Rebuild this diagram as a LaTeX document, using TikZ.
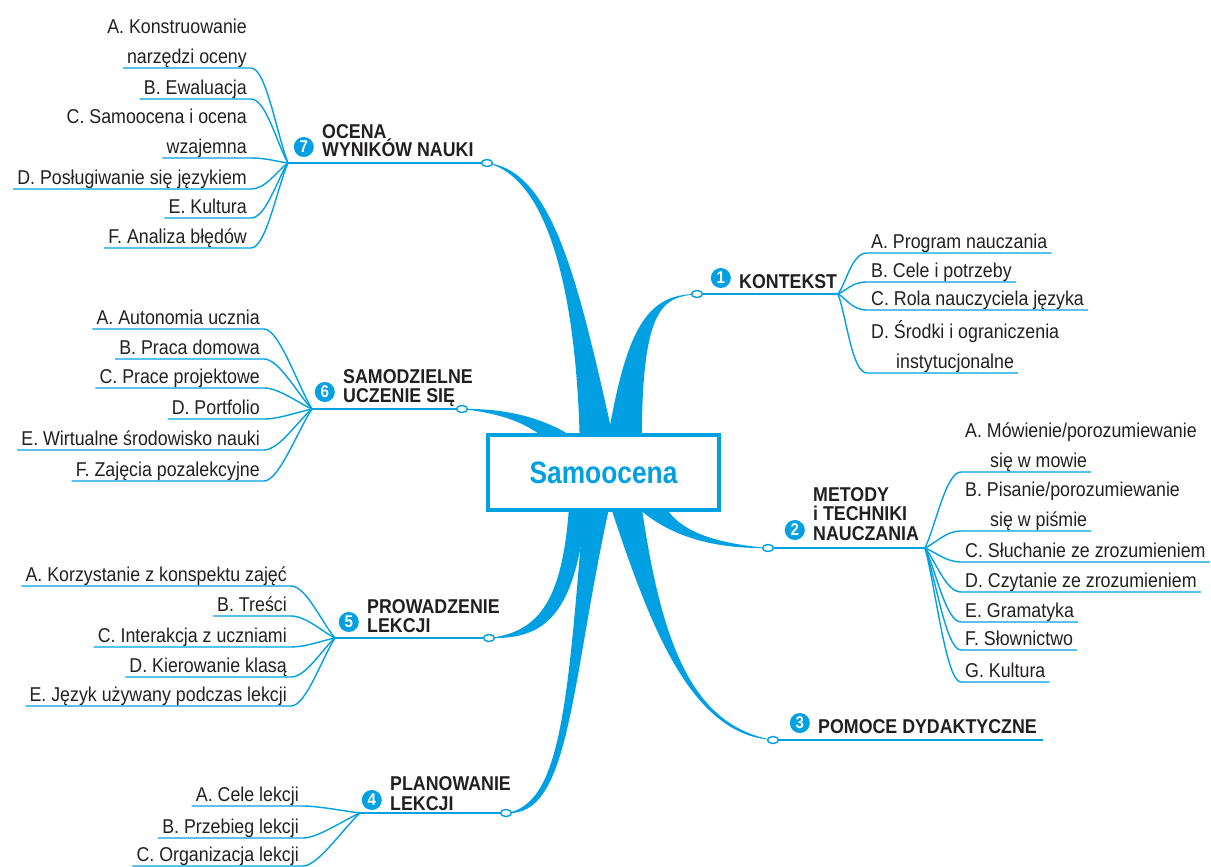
\documentclass[tikz,border=0pt]{standalone}
\usepackage{fontspec}
\setmainfont{Liberation Sans}[FakeStretch=0.89]
\newfontfamily\titlefont{Liberation Sans}[FakeStretch=0.85]
\usetikzlibrary{positioning,calc,shapes.geometric}
\definecolor{mapblue}{RGB}{0,160,227}
\definecolor{ink}{RGB}{35,31,32}
\tikzset{
  limb/.style={fill=mapblue},
  twig/.style={draw=mapblue, line width=1.4pt},
  knob/.style={ellipse, draw=mapblue, fill=white, line width=1.4pt,
    minimum width=11pt, minimum height=7pt, inner sep=0pt},
  leaf/.style={text=ink, font=\fontsize{20}{30}\selectfont,
    inner xsep=4pt, inner ysep=4pt, text depth=0pt},
  leafL/.style={leaf, anchor=south east},
  leafR/.style={leaf, anchor=south west},
  head/.style={text=ink, font=\bfseries\fontsize{20}{20}\selectfont,
    inner sep=0pt, anchor=base west},
  digit/.style={circle, fill=mapblue, text=white,
    font=\bfseries\fontsize{17}{17}\selectfont, minimum size=20pt, inner sep=0pt},
  core/.style={draw=mapblue, line width=4pt, fill=white, minimum width=231pt,
    minimum height=75pt, text=mapblue, font=\titlefont\bfseries\fontsize{31}{31}\selectfont}
}
\begin{document}
\begin{tikzpicture}[x=1pt, y=-1pt]
  \useasboundingbox (0,0) rectangle (1211,867);

  % Knob positions and hubs
  \coordinate (p1) at (697,294); \coordinate (hub1) at (838,294);
  \coordinate (p2) at (768,548); \coordinate (hub2) at (925,548);
  \coordinate (p3) at (773,740); \coordinate (end3) at (1043,740);
  \coordinate (p4) at (506,813); \coordinate (hub4) at (360,813);
  \coordinate (p5) at (489,638); \coordinate (hub5) at (335,638);
  \coordinate (p6) at (462,409); \coordinate (hub6) at (312,409);
  \coordinate (p7) at (487,163); \coordinate (hub7) at (288,163);

  % Thick limbs, tapering out from under the core
  \fill[limb] (616,450) .. controls (580,290) and (555,170) .. (p7)
    .. controls (550,178) and (578,300) .. (580,455) -- cycle;
  \fill[limb] (605,455) .. controls (625,330) and (645,294) .. (p1)
    .. controls (665,298) and (640,300) .. (642,455) -- cycle;
  \fill[limb] (595,455) .. controls (560,420) and (510,408) .. (p6)
    .. controls (505,414) and (540,425) .. (565,460) -- cycle;
  \fill[limb] (660,495) .. controls (670,525) and (700,542) .. (p2)
    .. controls (710,549) and (660,535) .. (625,495) -- cycle;
  \fill[limb] (640,495) .. controls (660,640) and (690,725) .. (p3)
    .. controls (685,735) and (645,610) .. (605,490) -- cycle;
  \fill[limb] (570,490) .. controls (565,600) and (540,632) .. (p5)
    .. controls (550,640) and (578,610) .. (588,490) -- cycle;
  \fill[limb] (585,490) .. controls (568,700) and (562,805) .. (p4)
    .. controls (572,818) and (570,680) .. (612,495) -- cycle;

  % Central box
  \node[core] (core) at (603.5,472.5) {Samoocena};

  % Stems from knob to hub
  \draw[twig] (p1) -- (hub1);
  \draw[twig] (p2) -- (hub2);
  \draw[twig] (p3) -- (end3);
  \draw[twig] (p4) -- (hub4);
  \draw[twig] (p5) -- (hub5);
  \draw[twig] (p6) -- (hub6);
  \draw[twig] (p7) -- (hub7);

  % 1 KONTEKST
  \foreach \n/\y/\t in {a/253/A. Program nauczania, b/282/B. Cele i potrzeby,
      c/310/C. Rola nauczyciela języka, d/373/\hspace*{25pt}instytucjonalne}{
    \node[leafR] (l1\n) at (867,\y) {\t};
    \draw[twig] (l1\n.south east) -- (l1\n.south west)
      .. controls +(-15,0) and ($(hub1)!0.3!(l1\n.south west)$) .. (hub1);
  }
  \node[leafR] at ([yshift=30pt]l1d.south west) {D. Środki i ograniczenia};

  % 2 METODY I TECHNIKI NAUCZANIA
  \foreach \n/\y/\t in {a/472/\hspace*{25pt}się w mowie, b/531/\hspace*{25pt}się w piśmie,
      c/562/C. Słuchanie ze zrozumieniem, d/592/D. Czytanie ze zrozumieniem,
      e/622/E. Gramatyka, f/650/F. Słownictwo, g/682/G. Kultura}{
    \node[leafR] (l2\n) at (961,\y) {\t};
    \draw[twig] (l2\n.south east) -- (l2\n.south west)
      .. controls +(-15,0) and ($(hub2)!0.3!(l2\n.south west)$) .. (hub2);
  }
  \node[leafR] at ([yshift=30pt]l2a.south west) {A. Mówienie/porozumiewanie};
  \node[leafR] at ([yshift=30pt]l2b.south west) {B. Pisanie/porozumiewanie};

  % 4 PLANOWANIE LEKCJI
  \foreach \n/\y/\t in {a/806/A. Cele lekcji, b/838/B. Przebieg lekcji,
      c/866/C. Organizacja lekcji}{
    \node[leafL] (l4\n) at (303,\y) {\t};
    \draw[twig] (l4\n.south west) -- (l4\n.south east)
      .. controls +(15,0) and ($(hub4)!0.3!(l4\n.south east)$) .. (hub4);
  }

  % 5 PROWADZENIE LEKCJI
  \foreach \n/\y/\t in {a/586/A. Korzystanie z konspektu zajęć, b/616/B. Treści,
      c/647/C. Interakcja z uczniami, d/677/D. Kierowanie klasą,
      e/706/E. Język używany podczas lekcji}{
    \node[leafL] (l5\n) at (291,\y) {\t};
    \draw[twig] (l5\n.south west) -- (l5\n.south east)
      .. controls +(15,0) and ($(hub5)!0.3!(l5\n.south east)$) .. (hub5);
  }

  % 6 SAMODZIELNE UCZENIE SIĘ
  \foreach \n/\y/\t in {a/329/A. Autonomia ucznia, b/359/B. Praca domowa,
      c/388/C. Prace projektowe, d/419/D. Portfolio,
      e/450/E. Wirtualne środowisko nauki, f/481/F. Zajęcia pozalekcyjne}{
    \node[leafL] (l6\n) at (264,\y) {\t};
    \draw[twig] (l6\n.south west) -- (l6\n.south east)
      .. controls +(15,0) and ($(hub6)!0.3!(l6\n.south east)$) .. (hub6);
  }

  % 7 OCENA WYNIKOW NAUKI
  \foreach \n/\y/\t in {a/68/narzędzi oceny, b/99/B. Ewaluacja, c/158/wzajemna,
      d/189/D. Posługiwanie się językiem, e/218/E. Kultura, f/248/F. Analiza błędów}{
    \node[leafL] (l7\n) at (251,\y) {\t};
    \draw[twig] (l7\n.south west) -- (l7\n.south east)
      .. controls +(15,0) and ($(hub7)!0.3!(l7\n.south east)$) .. (hub7);
  }
  \node[leafL] at ([yshift=30pt]l7a.south east) {A. Konstruowanie};
  \node[leafL] at ([yshift=30pt]l7c.south east) {C. Samoocena i ocena};

  % Knobs on top of the stems
  \foreach \i in {1,...,7}
    \node[knob] (k\i) at (p\i) {};

  % Headings and their numbers
  \node[head] (h1) at (739,288) {KONTEKST};
  \node[head] (h2a) at (813,501) {METODY};
  \node[head] (h2b) at (813,520) {i TECHNIKI};
  \node[head] (h2) at (813,540) {NAUCZANIA};
  \node[head] (h3) at (818,733) {POMOCE DYDAKTYCZNE};
  \node[head] (h4a) at (390,790) {PLANOWANIE};
  \node[head] (h4) at (390,810) {LEKCJI};
  \node[head] (h5a) at (367,613) {PROWADZENIE};
  \node[head] (h5) at (367,632) {LEKCJI};
  \node[head] (h6a) at (343,383) {SAMODZIELNE};
  \node[head] (h6) at (343,402) {UCZENIE SIĘ};
  \node[head] (h7a) at (322,138) {OCENA};
  \node[head] (h7) at (322,157) {WYNIKÓW NAUKI};
  \foreach \i in {1,...,7}
    \node[digit, left=8pt of h\i.base west, yshift=10pt] (d\i) {\i};
\end{tikzpicture}
\end{document}
